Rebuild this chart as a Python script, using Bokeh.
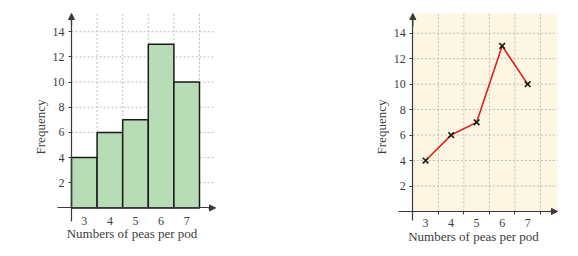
from bokeh.plotting import figure
from bokeh.models import FixedTicker, Arrow, NormalHead, BoxAnnotation, Range1d, LinearAxis
from bokeh.layouts import row
from bokeh.embed import file_html
from bokeh.resources import INLINE

# ---- data ----
peas = [3, 4, 5, 6, 7]
freq = [4, 6, 7, 13, 10]
y_ticks = [2, 4, 6, 8, 10, 12, 14]
x_label = "Numbers of peas per pod"
y_label = "Frequency"

FONT = "Liberation Serif"
AX = "#3a3a3a"
TXT = "#3c3c3c"
GRID = "#bdbdbd"
edges = [v + 0.5 for v in peas]
x0 = peas[0] - 0.5


def make(width, xr, yr, xb, yb, mbl, mbr, mbt, mbb, minor, xstand, lstand):
    p = figure(width=width, height=256, x_range=Range1d(*xr), y_range=Range1d(*yr),
               output_backend="svg", toolbar_location=None,
               x_axis_location=None, y_axis_location=None,
               min_border_left=mbl, min_border_right=mbr,
               min_border_top=mbt, min_border_bottom=mbb)
    p.outline_line_color = None
    p.xgrid.visible = False
    p.ygrid.visible = False
    p.background_fill_color = "white"
    p.border_fill_color = "white"

    # gridlines
    p.segment(x0=[x0] * len(y_ticks), y0=y_ticks, x1=[xb[1]] * len(y_ticks), y1=y_ticks,
              line_color=GRID, line_width=1, line_dash="2 2")
    p.segment(x0=edges, y0=[0] * len(edges), x1=edges, y1=[yb[1]] * len(edges),
              line_color=GRID, line_width=1, line_dash="2 2")

    ax = LinearAxis(fixed_location=0, bounds=xb,
                    ticker=FixedTicker(ticks=peas, minor_ticks=edges if minor else []))
    ax.major_tick_line_color = None
    ax.major_tick_out = 0
    ax.major_tick_in = 0
    ax.minor_tick_out = 3 if minor else 0
    ax.minor_tick_in = 0
    ax.minor_tick_line_color = AX
    ax.major_label_standoff = xstand

    ay = LinearAxis(fixed_location=x0, bounds=yb, ticker=FixedTicker(ticks=y_ticks))
    ay.major_tick_out = 3
    ay.major_tick_in = 0
    ay.major_tick_line_color = AX
    ay.minor_tick_line_color = None
    ay.major_label_standoff = 4

    for a in (ax, ay):
        a.axis_line_color = AX
        a.axis_line_width = 1.2
        a.major_label_text_font = FONT
        a.major_label_text_font_size = "12px"
        a.major_label_text_color = TXT

    # title-only axes that carry the axis labels in the side panels
    lx = LinearAxis(ticker=FixedTicker(ticks=[]), axis_label=x_label, axis_label_standoff=lstand)
    ly = LinearAxis(ticker=FixedTicker(ticks=[]), axis_label=y_label, axis_label_standoff=1)
    for a in (lx, ly):
        a.axis_line_color = None
        a.major_tick_line_color = None
        a.minor_tick_line_color = None
        a.major_tick_out = 0
        a.minor_tick_out = 0
        a.axis_label_text_font = FONT
        a.axis_label_text_font_size = "13px"
        a.axis_label_text_font_style = "normal"
        a.axis_label_text_color = TXT

    p.add_layout(lx, "below")
    p.add_layout(ly, "left")
    p.add_layout(ax, "below")
    p.add_layout(ay, "left")

    p.add_layout(Arrow(end=NormalHead(size=6, fill_color=AX, line_color=AX, line_width=1),
                       x_start=xb[1] - 0.3, y_start=0, x_end=xb[1], y_end=0,
                       line_color=AX, line_width=1.2))
    p.add_layout(Arrow(end=NormalHead(size=6, fill_color=AX, line_color=AX, line_width=1),
                       x_start=x0, y_start=yb[1] - 1, x_end=x0, y_end=yb[1],
                       line_color=AX, line_width=1.2))
    return p


# left: bar chart  (frame: x 48..215, y 10..240)
p1 = make(290, (1.602, 8.125), (-2.588, 15.45), (1.953, 8.125), (-1.10, 15.45),
          48, 75, 10, 16, False, 9, -15)
p1.vbar(x=peas, top=freq, bottom=0, width=1, fill_color="#b7dcb6",
        line_color="#1a1a1a", line_width=1.5)

# right: frequency polygon  (frame: x 389..557, y 13..240)
p2 = make(288, (1.586, 8.17), (-2.280, 15.55), (1.939, 8.17), (-0.72, 15.55),
          99, 21, 13, 16, True, 5, -12)
p2.add_layout(BoxAnnotation(left=x0, bottom=0, fill_color="#fdf6e3", fill_alpha=1,
                            line_color=None, level="underlay"))
p2.line(peas, freq, line_color="#e0201a", line_width=1.6)
p2.scatter(peas, freq, marker="x", size=8, line_color="#1a1a1a", line_width=1.6)

layout = row(p1, p2)
open("out.html", "w").write(file_html(layout, INLINE))
